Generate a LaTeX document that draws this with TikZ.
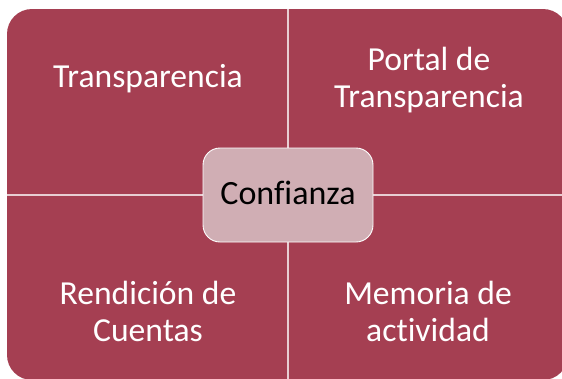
\documentclass[tikz,border=0pt]{standalone}
\usepackage{fontspec}
\setmainfont{Carlito}[Ligatures=NoCommon]
\definecolor{maroon}{RGB}{165,63,82}
\definecolor{pinkbox}{RGB}{208,174,180}
\begin{document}
\begin{tikzpicture}[x=1pt,y=-1pt,
  quad/.style={text=white,font=\fontsize{33.6}{36.5}\selectfont,align=center,anchor=base,inner sep=0pt},
  divider/.style={draw=white,draw opacity=0.75,line width=1.1pt}]
\useasboundingbox (0,0) rectangle (562,378);
\clip (0,0) rectangle (562,378);
\fill[maroon,rounded corners=25pt] (7,9) rectangle (568,380);
\coordinate (top) at (288,9);
\coordinate (bot) at (288,380);
\coordinate (lft) at (7,195);
\coordinate (rgt) at (568,195);
\draw[divider] (top) -- (bot);
\draw[divider] (lft) -- (rgt);
\node[draw=white,line width=0.9pt,fill=pinkbox,rounded corners=17pt,minimum width=170pt,minimum height=94pt,inner sep=0pt] (center) at (288,195) {};
\node[font=\fontsize{34}{36.5}\selectfont,anchor=base,inner sep=0pt,text=black] (conf) at (288,204) {Confianza};
\node[quad] (tl) at (148,87) {Transparencia};
\node[quad] (tr) at (429,107) {Portal de\\Transparencia};
\node[quad] (bl) at (148,341) {Rendición de\\Cuentas};
\node[quad] (br) at (428,341) {Memoria de\\actividad};
\end{tikzpicture}
\end{document}
